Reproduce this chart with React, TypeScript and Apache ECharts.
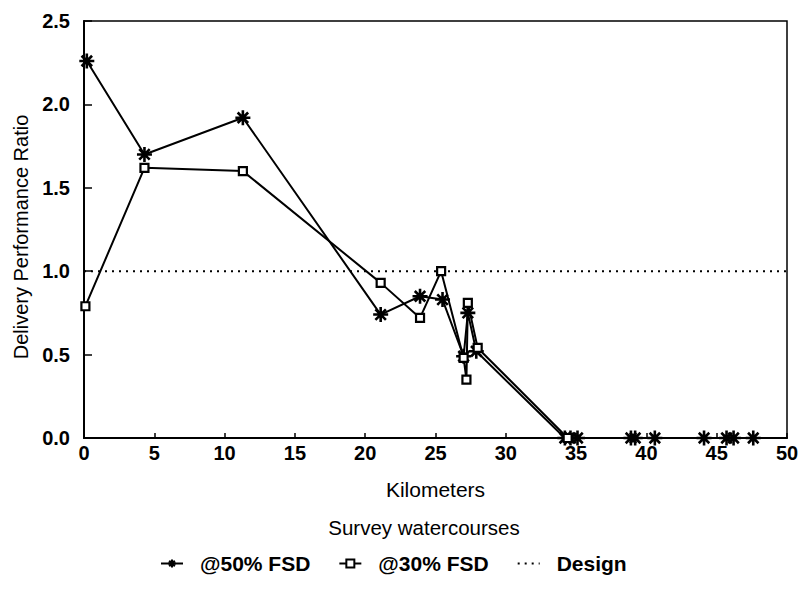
import React, { useEffect, useRef } from "react";
import * as echarts from "echarts";

const fsd50: [number, number][] = [
  [0.2, 2.26], [4.3, 1.7], [11.3, 1.92], [21.1, 0.74], [23.9, 0.85], [25.5, 0.83],
  [27.0, 0.49], [27.3, 0.75], [27.9, 0.52], [34.2, 0], [34.6, 0], [35.1, 0],
  [38.9, 0], [39.2, 0], [40.6, 0], [44.1, 0], [45.7, 0], [46.2, 0], [47.6, 0],
];
const fsd30: [number, number][] = [
  [0.1, 0.79], [4.3, 1.62], [11.3, 1.6], [21.1, 0.93], [23.9, 0.72], [25.4, 1.0],
  [27.0, 0.48], [27.2, 0.35], [27.3, 0.81], [28.0, 0.54], [34.4, 0],
];
const design: [number, number][] = [[0, 1.0], [50, 1.0]];
const seriesNames = ["@50% FSD", "@30% FSD", "Design"];
const xTitle = "Kilometers";
const yTitle = "Delivery Performance Ratio";
const subTitle = "Survey watercourses";

const star = "path://M0 5 L10 5 M5 0 L5 10 M1.5 1.5 L8.5 8.5 M1.5 8.5 L8.5 1.5";
const FONT = "'Liberation Sans', Arial, sans-serif";

export default function App() {
  const ref = useRef<HTMLDivElement>(null);
  useEffect(() => {
    const chart = echarts.init(ref.current!, undefined, { renderer: "svg" });
    chart.setOption({
      animation: false,
      textStyle: { fontFamily: FONT, color: "#000" },
      grid: {
        left: 84, right: 12, top: 21, bottom: 154, show: true, borderColor: "#000", borderWidth: 1.5,
        backgroundColor: "#fff", outerBoundsMode: "none",
      },
      xAxis: {
        type: "value", min: 0, max: 50, interval: 5,
        name: xTitle, nameLocation: "middle", nameGap: 41,
        nameTextStyle: { fontSize: 21, color: "#000", fontFamily: FONT },
        axisLine: { show: true, lineStyle: { color: "#000", width: 2 } },
        axisTick: { show: true, inside: true, length: 5, lineStyle: { color: "#000", width: 1.5 } },
        axisLabel: { fontSize: 20, fontWeight: "bold", color: "#000", margin: 5, fontFamily: FONT, showMaxLabel: true },
        splitLine: { show: false },
      },
      yAxis: {
        type: "value", min: 0, max: 2.5, interval: 0.5,
        name: yTitle, nameLocation: "middle", nameGap: 50, nameRotate: 90,
        nameTextStyle: { fontSize: 20, color: "#000", fontFamily: FONT, padding: [0, 15, 0, 0] },
        axisLine: { show: true, lineStyle: { color: "#000", width: 2 } },
        axisTick: { show: true, inside: true, length: 8, lineStyle: { color: "#000", width: 1.5 } },
        axisLabel: { fontSize: 20, fontWeight: "bold", color: "#000", margin: 14, fontFamily: FONT, formatter: (v: number) => v.toFixed(1) },
        splitLine: { show: false },
      },
      legend: {
        bottom: 13, left: 155, itemGap: 28, itemWidth: 22, itemHeight: 10,
        textStyle: { fontSize: 21, fontWeight: "bold", color: "#000", fontFamily: FONT, padding: [0, 0, 0, 12] },
        data: [
          { name: seriesNames[0] },
          { name: seriesNames[1] },
          { name: seriesNames[2], itemStyle: { opacity: 0 } },
        ],
      },
      graphic: [
        { type: "text", x: 424, y: 517, style: { text: subTitle, fontSize: 20.5, fill: "#000", fontFamily: FONT, align: "center" } },
      ],
      series: [
        {
          name: seriesNames[0], type: "line", data: fsd50, symbol: star, symbolSize: 15,
          lineStyle: { color: "#000", width: 2 },
          itemStyle: { color: "none", borderColor: "#000", borderWidth: 2.6 },
          z: 3,
        },
        {
          name: seriesNames[1], type: "line", data: fsd30, symbol: "rect", symbolSize: 8,
          lineStyle: { color: "#000", width: 2 },
          itemStyle: { color: "#fff", borderColor: "#000", borderWidth: 2.2 },
          z: 4,
        },
        {
          name: seriesNames[2], type: "line", data: design, symbol: "none",
          lineStyle: { color: "#000", width: 2, type: [2, 5] },
          itemStyle: { color: "#000" },
          z: 2,
        },
      ],
    });
    return () => chart.dispose();
  }, []);
  return <div ref={ref} style={{ position: "absolute", left: 0, top: 0, width: 799, height: 592, background: "#fff" }} />;
}
